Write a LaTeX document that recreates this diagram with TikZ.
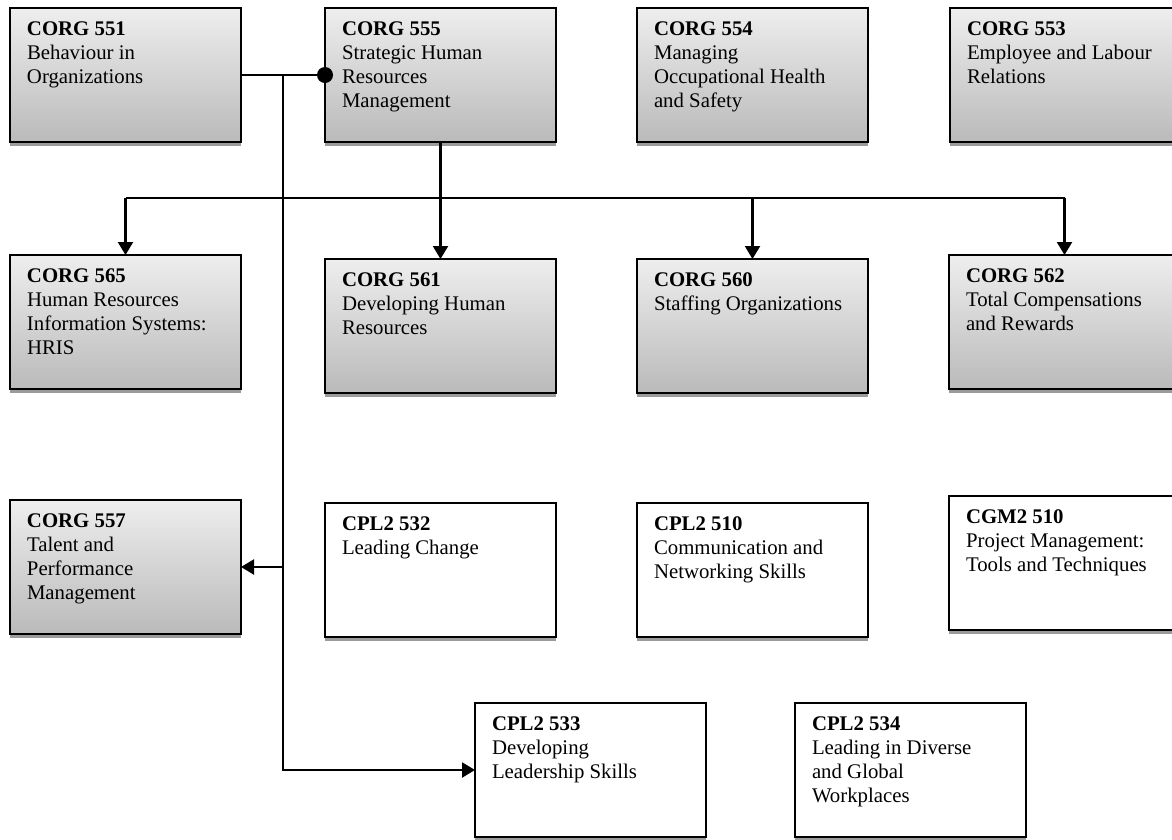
\documentclass[tikz,border=0pt]{standalone}
\usepackage{fontspec}
\setmainfont{Liberation Serif}
\usetikzlibrary{arrows.meta,shadows}
\definecolor{gtop}{RGB}{238,238,238}
\definecolor{gbot}{RGB}{186,186,186}
\definecolor{shd}{RGB}{155,155,155}
\newcommand{\cbox}[2]{\begin{minipage}[c][134pt][t]{231pt}\vspace*{11pt}\hspace*{17pt}\begin{tabular}[t]{@{}l@{}}\textbf{#1}\\#2\end{tabular}\end{minipage}}
\begin{document}
\begin{tikzpicture}[x=1pt,y=-1pt,
  every node/.style={font=\fontsize{20.8}{24}\selectfont},
  wbox/.style={draw=black,line width=2.2pt,fill=white,inner sep=0pt,outer sep=0pt,anchor=north west,
    drop shadow={shadow xshift=0pt,shadow yshift=-4pt,fill=shd,opacity=1}},
  gbox/.style={wbox,top color=gtop,bottom color=gbot},
  conn/.style={line width=2.2pt,draw=black},
  arr/.style={conn,-{Triangle[length=13pt,width=15pt]}}]
\useasboundingbox (0,0) rectangle (1172,839);
% row 1
\node[gbox] (c551) at (10,8) {\cbox{CORG 551}{Behaviour in\\Organizations}};
\node[gbox] (c555) at (325,8) {\cbox{CORG 555}{Strategic Human\\Resources\\Management}};
\node[gbox] (c554) at (637,8) {\cbox{CORG 554}{Managing\\Occupational Health\\and Safety}};
\node[gbox] (c553) at (950,8) {\cbox{CORG 553}{Employee and Labour\\Relations}};
% row 2
\node[gbox] (c565) at (10,255) {\cbox{CORG 565}{Human Resources\\Information Systems:\\HRIS}};
\node[gbox] (c561) at (325,259) {\cbox{CORG 561}{Developing Human\\Resources}};
\node[gbox] (c560) at (637,259) {\cbox{CORG 560}{Staffing Organizations}};
\node[gbox] (c562) at (949,255) {\cbox{CORG 562}{Total Compensations\\and Rewards}};
% row 3
\node[gbox] (c557) at (10,500) {\cbox{CORG 557}{Talent and\\Performance\\Management}};
\node[wbox] (p532) at (325,503) {\cbox{CPL2 532}{Leading Change}};
\node[wbox] (p510) at (637,503) {\cbox{CPL2 510}{Communication and\\Networking Skills}};
\node[wbox] (g510) at (949,496) {\cbox{CGM2 510}{Project Management:\\Tools and Techniques}};
% row 4
\node[wbox] (p533) at (475,703) {\cbox{CPL2 533}{Developing\\Leadership Skills}};
\node[wbox] (p534) at (795,703) {\cbox{CPL2 534}{Leading in Diverse\\and Global\\Workplaces}};
% connectors from CORG 551
\coordinate (jx) at (283,75);
\draw[conn] (c551.east) -- (c555.west);
\fill (c555.west) circle (8pt);
\draw[arr] (jx) |- (p533.west);
\draw[arr] (jx |- c557.east) -- (c557.east);
% connectors from CORG 555
\coordinate (hb) at (440.5,198);
\draw[arr] (c555.south) -- (c561.north);
\draw[conn] (c565.north |- hb) -- (c562.north |- hb);
\draw[arr] (c565.north |- hb) -- (c565.north);
\draw[arr] (c560.north |- hb) -- (c560.north);
\draw[arr] (c562.north |- hb) -- (c562.north);
\end{tikzpicture}
\end{document}
